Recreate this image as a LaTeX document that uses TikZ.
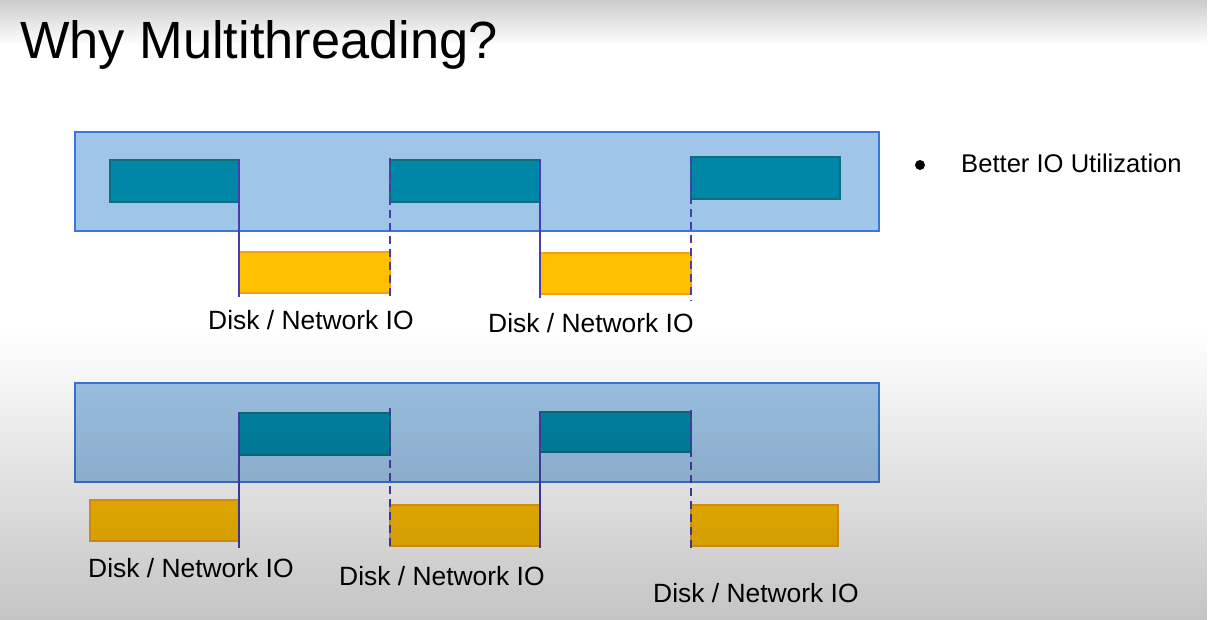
\documentclass[tikz,border=0pt]{standalone}
\usepackage{fontspec}
\setmainfont{Liberation Sans}
\usetikzlibrary{fadings}

\definecolor{laneblue}{HTML}{9FC5E8}
\definecolor{laneedge}{HTML}{3A78D8}
\definecolor{cpufill}{HTML}{0086A6}
\definecolor{cpuedge}{HTML}{0E6E7A}
\definecolor{iofill}{HTML}{FFC000}
\definecolor{ioedge}{HTML}{F2A21A}
\definecolor{syncol}{HTML}{4A3DAA}

\tikzfading[name=fadedown, top color=transparent!100, bottom color=transparent!0]
\tikzfading[name=fadeup, top color=transparent!0, bottom color=transparent!100]

\tikzset{
  lane/.style={draw=laneedge, fill=laneblue, line width=2pt, rectangle, outer sep=0pt,
    anchor=north west, inner sep=0pt, minimum width=804pt, minimum height=99pt},
  cpubar/.style={draw=cpuedge, fill=cpufill, line width=1.6pt, rectangle, outer sep=0pt,
    anchor=north west, inner sep=0pt, minimum height=42pt},
  iobar/.style={draw=ioedge, fill=iofill, line width=1.4pt, rectangle, outer sep=0pt,
    anchor=north west, inner sep=0pt, minimum height=41pt},
  handoff/.style={draw=syncol, line width=2pt},
  resume/.style={draw=syncol, line width=2.6pt, dash pattern=on 8pt off 5pt},
  iolabel/.style={anchor=base west, inner sep=0pt, font=\fontsize{26.4}{30}\selectfont},
}

\begin{document}
\begin{tikzpicture}[x=1pt, y=-1pt]
  \useasboundingbox (0,0) rectangle (1211,620);
  \fill[white] (0,0) rectangle (1211,620);

  % title and bullet
  \node[anchor=base west, inner sep=0pt, font=\fontsize{52.4}{60}\selectfont] (title) at (20,59) {Why Multithreading?};
  \node[circle, fill=black, inner sep=0pt, minimum size=10pt] (dot) at (920,165) {};
  \node[anchor=base west, inner sep=0pt, font=\fontsize{25.6}{30}\selectfont] (point) at (961,173) {Better IO Utilization};

  % ---------- single thread: CPU waits for each IO ----------
  \node[lane] (lane1) at (75,132) {};
  \node[cpubar, minimum width=129pt] (t1) at (110,160) {};
  \node[cpubar, minimum width=150pt] (t2) at (390,160) {};
  \node[cpubar, minimum width=149pt] (t3) at (691,157) {};
  \node[iobar, minimum width=151pt] (o1) at (239,252) {};
  \node[iobar, minimum width=151pt] (o2) at (540,253) {};

  \draw[handoff, shorten >=-4pt] (t1.north east) -- (o1.south west);
  \draw[resume, shorten <=-2pt, shorten >=-5pt] (t2.north west) -- (o1.south east);
  \draw[handoff, shorten >=-4pt] (t2.north east) -- (o2.south west);
  \draw[resume, shorten >=-7pt] (t3.north west) -- (o2.south east);

  \node[iolabel] (l1) at (208,330) {Disk / Network IO};
  \node[iolabel] (l2) at (488,333) {Disk / Network IO};

  % ---------- multithreaded: CPU work overlaps IO ----------
  \node[lane] (lane2) at (75,383) {};
  \node[cpubar, minimum width=151pt] (tb1) at (239,413) {};
  \node[cpubar, minimum width=151pt, minimum height=40pt] (tb2) at (540,412) {};
  \node[iobar, minimum width=149pt] (ob1) at (90,500) {};
  \node[iobar, minimum width=150pt] (ob2) at (390,505) {};
  \node[iobar, minimum width=147pt] (ob3) at (691,505) {};

  \draw[handoff, shorten <=-1pt, shorten >=-7pt] (tb1.north west) -- (ob1.south east);
  \draw[resume, shorten <=-5pt, shorten >=-2pt] (tb1.north east) -- (ob2.south west);
  \draw[handoff, shorten >=-2pt] (tb2.north west) -- (ob2.south east);
  \draw[resume, shorten <=-2pt, shorten >=-5pt] (tb2.north east) -- (ob3.south west);

  \node[iolabel] (l3) at (88,577) {Disk / Network IO};
  \node[iolabel] (l4) at (339,585) {Disk / Network IO};
  \node[iolabel] (l5) at (653,602) {Disk / Network IO};

  % soft grey shading at the top and bottom edges
  \fill[black, opacity=0.2, path fading=fadeup] (0,0) rectangle (1211,45);
  \fill[black, opacity=0.23, path fading=fadedown] (0,330) rectangle (1211,620);
\end{tikzpicture}
\end{document}
